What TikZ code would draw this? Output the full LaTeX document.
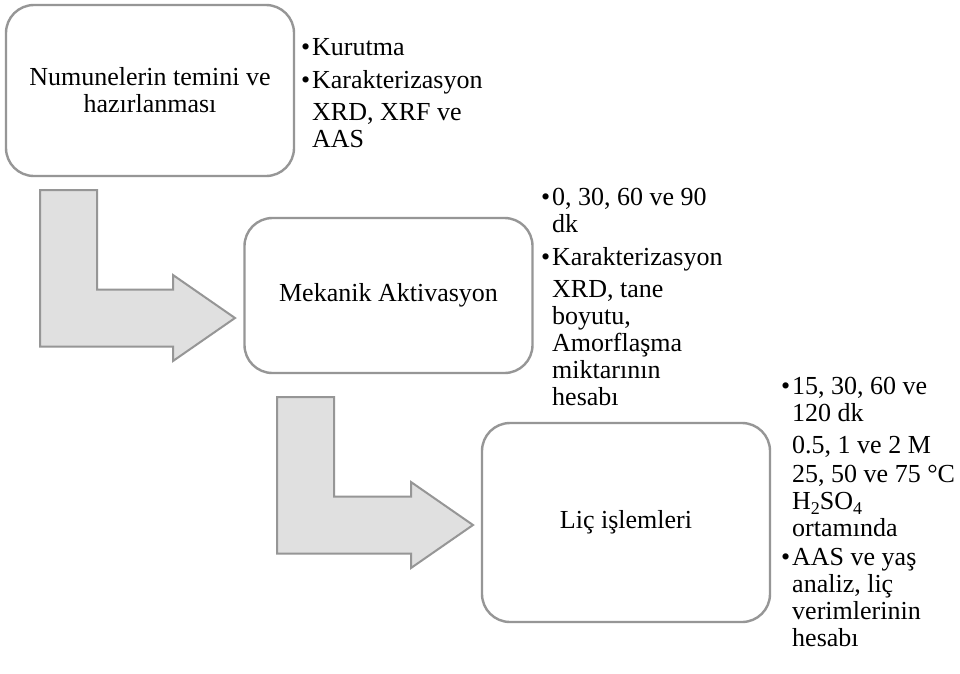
\documentclass[tikz,border=0pt]{standalone}
\usepackage{fontspec}
\setmainfont{Liberation Serif}
\usepackage{tikz}
\usetikzlibrary{calc,positioning}

\definecolor{boxgray}{RGB}{150,150,150}
\definecolor{arrowfill}{RGB}{224,224,224}

\newcommand{\bul}{\llap{\textbullet\hspace{2pt}}}
\newcommand{\subs}[1]{\raisebox{-5pt}{\fontsize{18}{18}\selectfont #1}}
% bent block arrow: stem starts at #1 (top left), head tip at #2
\newcommand{\bentarrow}[2]{%
  \draw[bent] (#1) -- ++(57,0) |- ($(#2)+(-62,-28.5)$) -- ++(0,-14.5)
    -- (#2) -- ($(#2)+(-62,43)$) -- ++(0,-14.5) -| (#1) -- cycle;}

\begin{document}
\begin{tikzpicture}[
  x=1pt, y=-1pt,
  every node/.style={font=\fontsize{26}{27}\selectfont},
  stage/.style={draw=boxgray, line width=2.4pt, fill=white,
    rounded corners=28pt, align=center, minimum width=288pt},
  note/.style={align=left, anchor=base west, inner sep=0pt},
  bent/.style={draw=boxgray, line width=2pt, fill=arrowfill, line join=miter},
]
\path[use as bounding box, fill=white] (0,0) rectangle (960,673);

% Stages
\node[stage, minimum height=171pt] (temin) at (150,90.5) {Numunelerin temini ve\\hazırlanması};
\node[stage, minimum height=155pt] (aktiv) at (388.5,295.5) {Mekanik Aktivasyon};
\node[stage, minimum height=199pt] (lic) at (626,522.5) {Liç işlemleri};

% Notes beside each stage (placed at the baseline of their last line)
\node[note] (temin-note) at (312,147) {\bul Kurutma\\[6pt]\bul Karakterizasyon\\[5pt]XRD, XRF ve\\AAS};
\node[note] (aktiv-note) at (552,405) {\bul 0, 30, 60 ve 90\\dk\\[6pt]\bul Karakterizasyon\\[5pt]XRD, tane\\boyutu,\\Amorflaşma\\miktarının\\hesabı};
\node[note] (lic-note) at (792,646) {\bul 15, 30, 60 ve\\120 dk\\[5pt]0.5, 1 ve 2 M\\[2pt]25, 50 ve 75 °C\\H\subs{2}SO\subs{4}\\ortamında\\[2pt]\bul AAS ve yaş\\analiz, liç\\verimlerinin\\hesabı};

% Arrows
\coordinate (a1s) at (40,190);
\coordinate (a1t) at (235,318);
\coordinate (a2s) at (277,397);
\coordinate (a2t) at (473,525);
\bentarrow{a1s}{a1t}
\bentarrow{a2s}{a2t}
\end{tikzpicture}
\end{document}
